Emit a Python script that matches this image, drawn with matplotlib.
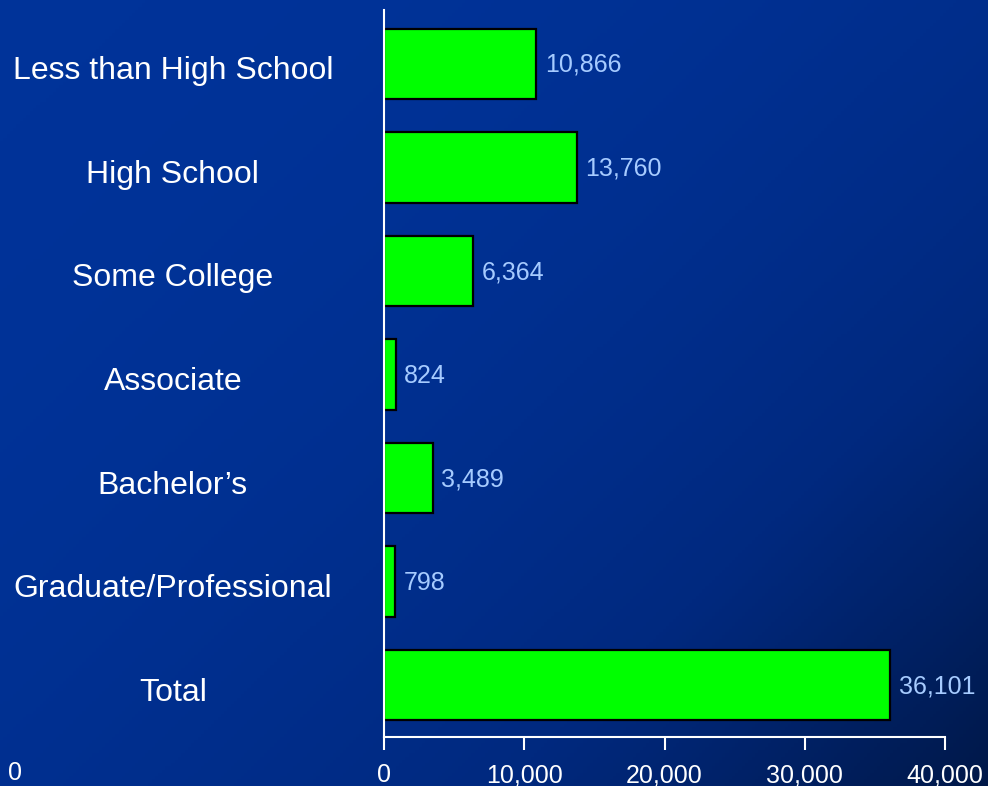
import numpy as np
import matplotlib
matplotlib.use("Agg")
import matplotlib.pyplot as plt
from matplotlib.colors import LinearSegmentedColormap
from matplotlib.transforms import ScaledTranslation

categories = ["Less than High School", "High School", "Some College", "Associate",
              "Bachelor\u2019s", "Graduate/Professional", "Total"]
values = [10866, 13760, 6364, 824, 3489, 798, 36101]
xticks = [0, 10000, 20000, 30000, 40000]

plt.rcParams['font.family'] = ['Liberation Sans', 'DejaVu Sans']

fig = plt.figure(figsize=(9.88, 7.86), dpi=100)

# background gradient
bg = fig.add_axes([0, 0, 1, 1], zorder=-10)
bg.axis('off')
nx, ny = 300, 240
X, Y = np.meshgrid(np.linspace(0, 1, nx), np.linspace(0, 1, ny))
t = np.clip((0.55 * X + 0.45 * Y), 0, 1) ** 2.2
cmap = LinearSegmentedColormap.from_list('bgc', ['#003399', '#00297f', '#001848'])
bg.imshow(t, cmap=cmap, aspect='auto', extent=[0, 1, 0, 1], origin='upper', vmin=0, vmax=1)
bg.set_xlim(0, 1); bg.set_ylim(0, 1)

ax = fig.add_axes([384/988, 1 - 737/786, (945 - 384)/988, (737 - 10)/786])
ax.patch.set_alpha(0)
y = np.arange(len(categories))
ax.barh(y, values, height=0.68, color='#00ff00', edgecolor='black', linewidth=1.6)
ax.set_ylim(6.5, -0.52)
ax.set_xlim(0, 40000)
ax.set_xticks(xticks)
ax.set_xticklabels([f"{v:,}" for v in xticks], color='white', fontsize=18)
ax.set_yticks(y)
ax.set_yticklabels(categories, color='white', fontsize=23, ha='center')
ax.tick_params(axis='y', length=0, pad=152)
ax.tick_params(axis='x', colors='white', length=9, width=1.5, pad=10, direction='out')
shift = ScaledTranslation(0, -4/100, fig.dpi_scale_trans)
for lbl in ax.get_yticklabels():
    lbl.set_transform(lbl.get_transform() + shift)
for s in ['top', 'right']:
    ax.spines[s].set_visible(False)
for s in ['left', 'bottom']:
    ax.spines[s].set_color('white')
    ax.spines[s].set_linewidth(1.5)

for yi, v in zip(y, values):
    ax.text(v + 600, yi + 0.01, f"{v:,}", color='#a6cbff', fontsize=18, va='center', ha='left')

fig.text(8/988, 1 - 773/786, "0", color='white', fontsize=18, va='center', ha='left')

fig.savefig("out.png", dpi=100)
